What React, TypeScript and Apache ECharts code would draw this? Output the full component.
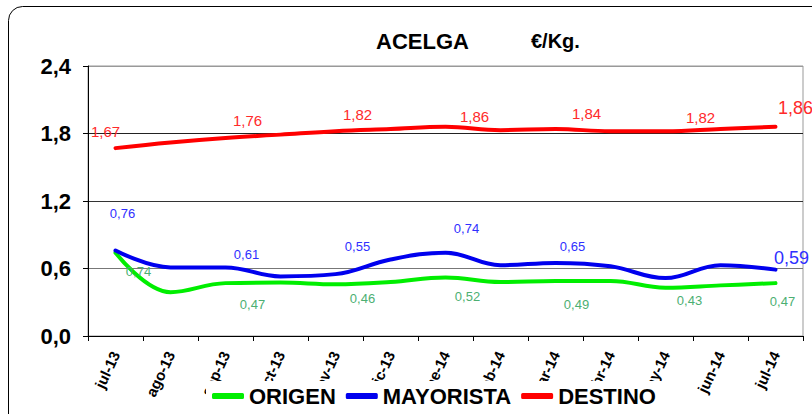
import React, { useEffect, useRef } from "react";
import * as echarts from "echarts";

const categories = ["jul-13", "ago-13", "sep-13", "oct-13", "nov-13", "dic-13", "ene-14", "feb-14", "mar-14", "abr-14", "may-14", "jun-14", "jul-14"];
const origen = [0.74, 0.39, 0.47, 0.475, 0.46, 0.48, 0.52, 0.48, 0.49, 0.49, 0.43, 0.45, 0.47];
const mayorista = [0.76, 0.61, 0.61, 0.53, 0.55, 0.68, 0.74, 0.63, 0.65, 0.62, 0.515, 0.63, 0.59];
const destino = [1.67, 1.72, 1.76, 1.79, 1.82, 1.84, 1.86, 1.83, 1.84, 1.82, 1.82, 1.84, 1.86];
const yTicks = [0, 0.6, 1.2, 1.8, 2.4];

// label placement (dx, dy from point to label centre), null = hidden
const origenLabelPos: (number[] | null)[] = [[23, 19], null, [27, 22], null, [27, 15], null, [22, 19], null, [21, 24], null, [24, 13], null, [7, 19]];
const mayoristaLabelPos: (number[] | null)[] = [[7, -37], null, [21, -12], null, [22, -27], null, [21, -24], null, [17, -16], null, null, null, [16, -11]];
const destinoLabelPos: (number[] | null)[] = [[-10, -16], null, [22, -17], null, [22, -16], null, [29, -10], null, [31, -15], null, [35, -13], null, [20, -18]];

const FONT = "'Liberation Sans', Arial, sans-serif";
const fmt = (v: number) => v.toFixed(2).replace(".", ",");

function buildData(values: number[], pos: (number[] | null)[], color: string, baseSize: number, lastSize: number) {
  const last = values.length - 1;
  return values.map((v, i) => {
    const p = pos[i];
    if (!p) return { value: v, label: { show: false } };
    const fs = i === last ? lastSize : baseSize;
    return {
      value: v,
      label: {
        show: true,
        position: "top",
        distance: 0,
        offset: [p[0], p[1] + fs / 2],
        fontSize: fs,
        fontFamily: FONT,
        color,
        formatter: (d: any) => fmt(d.value),
      },
    };
  });
}

function lineSeries(name: string, color: string, data: any[], z: number) {
  return {
    name,
    type: "line",
    smooth: 0.4,
    symbol: "circle",
    symbolSize: 1,
    showSymbol: true,
    color,
    itemStyle: { color },
    lineStyle: { width: 4, color, cap: "round" },
    data,
    z,
  };
}

export default function App() {
  const ref = useRef<HTMLDivElement>(null);
  useEffect(() => {
    if (!ref.current) return;
    const chart = echarts.init(ref.current, null, { renderer: "svg" });
    chart.setOption({
      animation: false,
      backgroundColor: "#fff",
      title: [
        { text: "ACELGA", left: 371, top: 25, textStyle: { fontSize: 22, fontWeight: "bold", fontFamily: FONT, color: "#000" } },
        { text: "€/Kg.", left: 526, top: 26, textStyle: { fontSize: 20, fontWeight: "bold", fontFamily: FONT, color: "#000" } },
      ],
      graphic: [
        { type: "rect", shape: { x: 8.5, y: 6.5, width: 830, height: 440, r: 14 }, style: { fill: "none", stroke: "#000", lineWidth: 1 }, z: -1 },
      ],
      grid: { left: 88, right: 9, top: 66, bottom: 78, show: true, borderColor: "#999", borderWidth: 1 },
      legend: {
        left: 206,
        top: 381,
        backgroundColor: "#fff",
        padding: [4, 6],
        itemGap: 10,
        itemWidth: 32,
        itemHeight: 6,
        icon: "roundRect",
        textStyle: { fontSize: 22, fontWeight: "bold", fontFamily: FONT, color: "#000" },
        data: ["ORIGEN", "MAYORISTA", "DESTINO"],
      },
      xAxis: {
        type: "category",
        data: categories,
        boundaryGap: true,
        axisLine: { lineStyle: { color: "#000", width: 1 } },
        axisTick: { show: true, alignWithLabel: false, length: 5, lineStyle: { color: "#000" } },
        axisLabel: { rotate: 65, interval: 0, margin: 16, fontSize: 15, fontWeight: "bold", color: "#000", fontFamily: FONT },
        splitLine: { show: false },
      },
      yAxis: {
        type: "value",
        min: yTicks[0],
        max: yTicks[yTicks.length - 1],
        interval: 0.6,
        axisLine: { show: true, lineStyle: { color: "#000" } },
        axisTick: { show: true, length: 5, lineStyle: { color: "#000" } },
        axisLabel: { margin: 17, fontSize: 22, fontWeight: "bold", color: "#000", fontFamily: FONT, formatter: (v: number) => v.toFixed(1).replace(".", ",") },
        splitLine: { show: true, lineStyle: { color: ["#000", "#777", "#333", "#222", "#999"], width: 1 } },
      },
      series: [
        lineSeries("ORIGEN", "#00ee00", buildData(origen, origenLabelPos, "#4caf72", 13, 13), 3),
        lineSeries("MAYORISTA", "#0000ee", buildData(mayorista, mayoristaLabelPos, "#2f2fff", 13, 18), 4),
        lineSeries("DESTINO", "#ff0000", buildData(destino, destinoLabelPos, "#ff2a2a", 15, 18), 5),
      ],
    });
    return () => chart.dispose();
  }, []);
  return <div ref={ref} style={{ width: 812, height: 414, position: "absolute", left: 0, top: 0 }} />;
}
